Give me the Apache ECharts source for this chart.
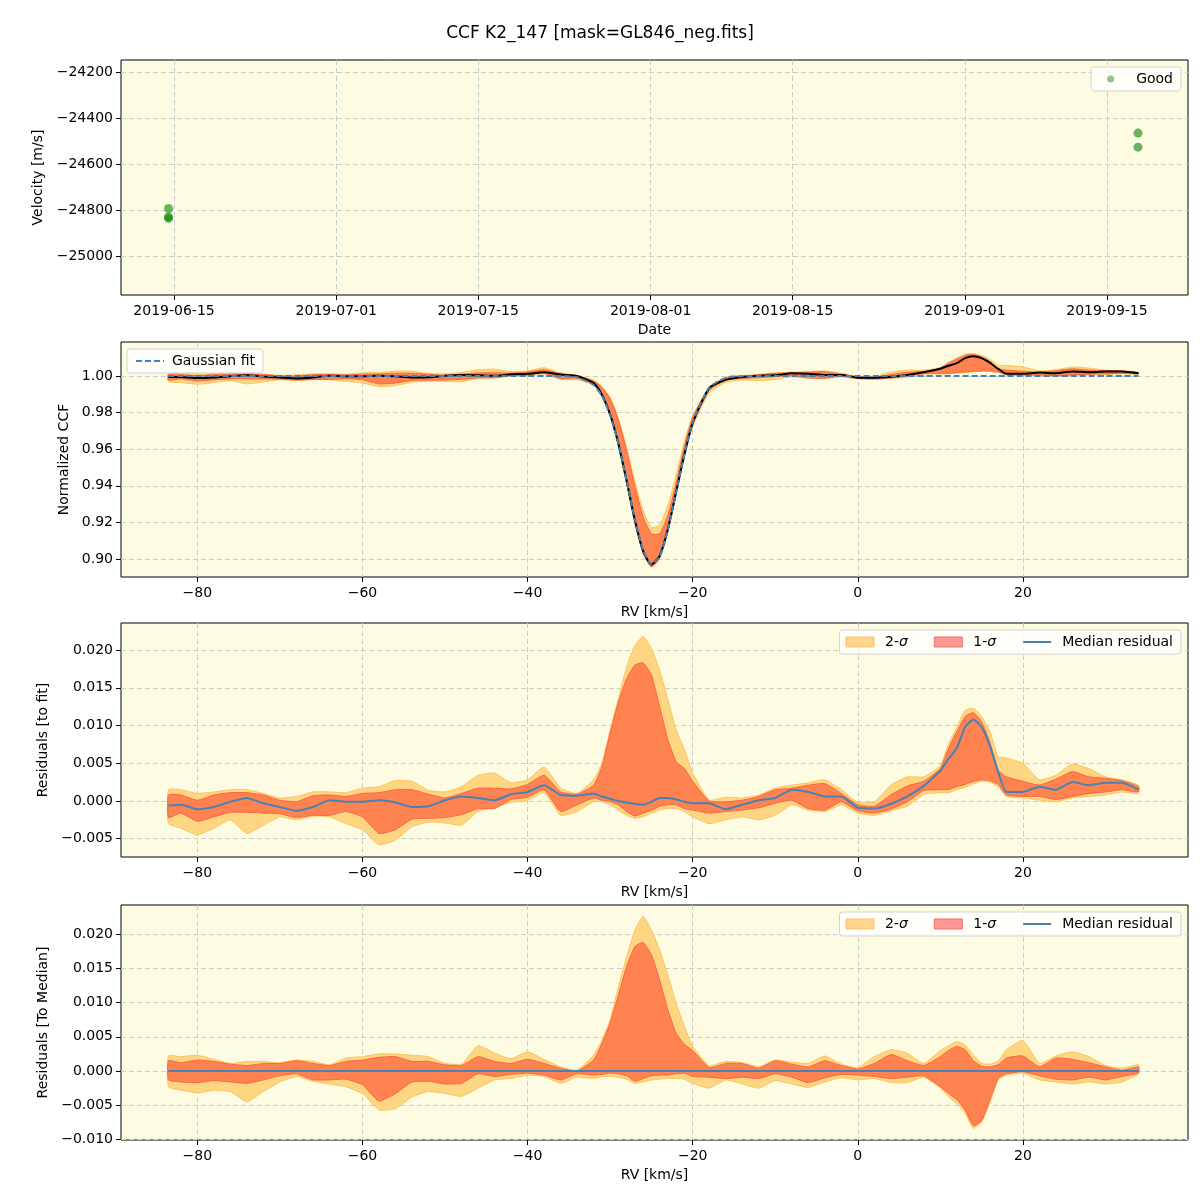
<!DOCTYPE html>
<html>
<head>
<meta charset="utf-8">
<title>CCF K2_147</title>
<script src="https://cdn.jsdelivr.net/npm/echarts@6/dist/echarts.min.js"></script>
<style>
  html, body { margin: 0; padding: 0; background: #fff; }
  #main { width: 1200px; height: 1200px; }
</style>
</head>
<body>
<div id="main"></div>
<script>
// ---- panel 1: velocity time series ----
const velDates = ['2019-06-14T11:00:00Z', '2019-06-14T11:00:00Z', '2019-06-14T11:00:00Z',
  '2019-09-18T01:30:00Z', '2019-09-18T01:30:00Z']
const velValues = [-24794, -24830, -24837, -24466, -24527]
const dateTicks = ['2019-06-15', '2019-07-01', '2019-07-15', '2019-08-01', '2019-08-15', '2019-09-01', '2019-09-15']
const velTicks = [-25000, -24800, -24600, -24400, -24200]

// ---- RV grid shared by panels 2-4 (km/s) ----
const rv = [-83.5, -82, -80, -78, -76, -74, -72, -70, -68, -66, -64, -62, -60, -58, -56, -54, -52, -50,
  -48, -46, -44, -42, -40, -38, -36, -34, -32, -31, -30, -29, -28, -27, -26, -25, -24, -23, -22, -21,
  -20, -18, -16, -14, -12, -10, -8, -6, -4, -2, 0, 2, 4, 6, 8, 10, 11, 12, 13, 14, 15, 16, 17, 18,
  20, 22, 24, 26, 28, 30, 32, 34]
const rvTicks = [-80, -60, -40, -20, 0, 20]

// gaussian fit of the CCF
const gaussFit = [1, 1, 1, 1, 1, 1, 1, 1, 1, 1, 1, 1, 1, 1, 1, 1, 1, 1,
  1, 1, 1, 1, 1, 1, 1, 0.9993, 0.9951, 0.9892, 0.9787, 0.9630, 0.9429, 0.9217, 0.9048, 0.8971, 0.9013, 0.9160, 0.9365, 0.9573,
  0.9746, 0.9937, 0.9990, 0.9999, 1, 1, 1, 1, 1, 1, 1, 1, 1, 1, 1, 1, 1, 1, 1, 1, 1, 1, 1, 1,
  1, 1, 1, 1, 1, 1, 1, 1]

// residuals to fit
const medRes = [-0.0006, -0.0005, -0.0011, -0.0008, -0.0001, 0.0004, -0.0003, -0.0008, -0.0013, -0.0008, 0.0001, -0.0001, -0.0001, 0.0001, -0.0002, -0.0008, -0.0007, 0.0001,
  0.0006, 0.0004, 0.0001, 0.0009, 0.0012, 0.0021, 0.0008, 0.0007, 0.0010, 0.0006, 0.0003, 0.0000, -0.0002, -0.0004, -0.0005, -0.0001, 0.0004, 0.0004, 0.0002, -0.0001,
  -0.0003, -0.0003, -0.0011, -0.0005, 0.0001, 0.0004, 0.0015, 0.0012, 0.0006, 0.0006, -0.0009, -0.0010, -0.0004, 0.0006, 0.0020, 0.0040, 0.0056, 0.0070, 0.0098, 0.0108, 0.0098, 0.0073, 0.0039, 0.0012,
  0.0012, 0.0019, 0.0015, 0.0025, 0.0021, 0.0024, 0.0024, 0.0015]
const res1Hi = [0.0008, 0.0008, 0.0001, 0.0008, 0.0011, 0.0011, 0.0008, 0.0001, -0.0001, 0.0007, 0.0008, 0.0006, 0.0010, 0.0011, 0.0015, 0.0015, 0.0009, 0.0004,
  0.0010, 0.0017, 0.0017, 0.0016, 0.0022, 0.0034, 0.0012, 0.0009, 0.0021, 0.0045, 0.0090, 0.0131, 0.0162, 0.0180, 0.0183, 0.0167, 0.0125, 0.0081, 0.0052, 0.0043,
  0.0026, 0.0000, -0.0001, 0.0001, 0.0006, 0.0015, 0.0017, 0.0021, 0.0023, 0.0010, -0.0005, -0.0007, 0.0008, 0.0020, 0.0026, 0.0043, 0.0070, 0.0092, 0.0112, 0.0117, 0.0105, 0.0078, 0.0041, 0.0032,
  0.0026, 0.0021, 0.0029, 0.0039, 0.0032, 0.0030, 0.0027, 0.0019]
const res1Lo = [-0.0022, -0.0016, -0.0027, -0.0021, -0.0015, -0.0015, -0.0016, -0.0017, -0.0022, -0.0019, -0.0019, -0.0014, -0.0021, -0.0043, -0.0038, -0.0024, -0.0023, -0.0022,
  -0.0018, -0.0010, -0.0010, 0.0002, 0.0005, 0.0015, -0.0014, -0.0005, 0.0004, 0.0001, -0.0001, -0.0005, -0.0014, -0.0020, -0.0016, -0.0012, -0.0007, -0.0005, -0.0005, -0.0010,
  -0.0012, -0.0016, -0.0014, -0.0012, -0.0009, -0.0003, 0.0001, -0.0010, -0.0012, -0.0001, -0.0013, -0.0016, -0.0011, -0.0001, 0.0014, 0.0015, 0.0015, 0.0019, 0.0022, 0.0026, 0.0028, 0.0027, 0.0022, 0.0008,
  0.0006, 0.0006, 0.0002, 0.0006, 0.0010, 0.0012, 0.0015, 0.0012]
const res2Hi = [0.0015, 0.0015, 0.0010, 0.0012, 0.0015, 0.0015, 0.0010, 0.0004, 0.0006, 0.0012, 0.0012, 0.0011, 0.0017, 0.0019, 0.0027, 0.0026, 0.0014, 0.0012,
  0.0019, 0.0034, 0.0037, 0.0024, 0.0028, 0.0045, 0.0017, 0.0010, 0.0028, 0.0050, 0.0094, 0.0136, 0.0178, 0.0206, 0.0218, 0.0202, 0.0173, 0.0134, 0.0094, 0.0068,
  0.0037, 0.0001, 0.0005, 0.0004, 0.0008, 0.0017, 0.0021, 0.0024, 0.0028, 0.0015, -0.0002, -0.0001, 0.0021, 0.0032, 0.0032, 0.0047, 0.0076, 0.0098, 0.0120, 0.0123, 0.0112, 0.0092, 0.0059, 0.0057,
  0.0050, 0.0028, 0.0034, 0.0049, 0.0043, 0.0032, 0.0028, 0.0021]
const res2Lo = [-0.0030, -0.0036, -0.0045, -0.0036, -0.0025, -0.0043, -0.0032, -0.0021, -0.0025, -0.0020, -0.0021, -0.0030, -0.0038, -0.0058, -0.0052, -0.0034, -0.0028, -0.0029,
  -0.0032, -0.0014, -0.0008, -0.0002, 0.0001, 0.0011, -0.0019, -0.0014, -0.0001, -0.0001, -0.0005, -0.0012, -0.0019, -0.0023, -0.0021, -0.0016, -0.0012, -0.0010, -0.0010, -0.0014,
  -0.0021, -0.0030, -0.0025, -0.0021, -0.0025, -0.0019, -0.0005, -0.0012, -0.0014, -0.0005, -0.0016, -0.0019, -0.0013, -0.0007, 0.0009, 0.0011, 0.0011, 0.0015, 0.0018, 0.0023, 0.0026, 0.0025, 0.0019, 0.0006,
  0.0004, 0.0001, -0.0001, 0.0004, 0.0006, 0.0008, 0.0012, 0.0010]

// residuals to median
const medLineRv = [-83.5, 34]
const medLine = [0, 0]
const med1Hi = [0.0015, 0.0012, 0.0016, 0.0014, 0.0010, 0.0008, 0.0011, 0.0011, 0.0015, 0.0011, 0.0008, 0.0014, 0.0016, 0.0020, 0.0021, 0.0014, 0.0014, 0.0009,
  0.0008, 0.0021, 0.0014, 0.0011, 0.0017, 0.0011, 0.0004, 0.0000, 0.0016, 0.0040, 0.0070, 0.0111, 0.0153, 0.0182, 0.0188, 0.0170, 0.0133, 0.0089, 0.0055, 0.0039,
  0.0030, 0.0005, 0.0011, 0.0011, 0.0004, 0.0015, 0.0010, 0.0006, 0.0015, 0.0008, 0.0003, 0.0011, 0.0024, 0.0015, 0.0008, 0.0021, 0.0030, 0.0036, 0.0031, 0.0015, 0.0007, 0.0006, 0.0009, 0.0019,
  0.0022, 0.0006, 0.0019, 0.0017, 0.0012, 0.0006, 0.0001, 0.0006]
const med1Lo = [-0.0013, -0.0016, -0.0017, -0.0014, -0.0016, -0.0018, -0.0013, -0.0007, -0.0004, -0.0013, -0.0013, -0.0012, -0.0020, -0.0044, -0.0033, -0.0016, -0.0015, -0.0019,
  -0.0018, -0.0004, -0.0008, -0.0005, -0.0003, -0.0006, -0.0013, -0.0004, -0.0006, -0.0005, -0.0003, -0.0004, -0.0007, -0.0015, -0.0011, -0.0007, -0.0006, -0.0006, -0.0004, -0.0003,
  -0.0008, -0.0009, -0.0011, -0.0009, -0.0011, -0.0004, -0.0009, -0.0017, -0.0010, -0.0005, -0.0006, -0.0008, -0.0011, -0.0009, -0.0007, -0.0023, -0.0033, -0.0042, -0.0057, -0.0080, -0.0073, -0.0042, -0.0011, -0.0004,
  -0.0001, -0.0007, -0.0012, -0.0013, -0.0009, -0.0013, -0.0008, -0.0003]
const med2Hi = [0.0022, 0.0021, 0.0023, 0.0017, 0.0011, 0.0014, 0.0014, 0.0012, 0.0016, 0.0014, 0.0009, 0.0019, 0.0021, 0.0025, 0.0025, 0.0023, 0.0021, 0.0011,
  0.0010, 0.0037, 0.0026, 0.0018, 0.0028, 0.0017, 0.0006, 0.0001, 0.0023, 0.0045, 0.0075, 0.0123, 0.0167, 0.0206, 0.0226, 0.0206, 0.0177, 0.0140, 0.0099, 0.0065,
  0.0036, 0.0008, 0.0014, 0.0012, 0.0006, 0.0016, 0.0013, 0.0011, 0.0022, 0.0010, 0.0005, 0.0021, 0.0031, 0.0026, 0.0011, 0.0030, 0.0037, 0.0043, 0.0038, 0.0023, 0.0011, 0.0010, 0.0014, 0.0031,
  0.0045, 0.0011, 0.0022, 0.0028, 0.0021, 0.0008, 0.0004, 0.0009]
const med2Lo = [-0.0023, -0.0028, -0.0032, -0.0028, -0.0030, -0.0045, -0.0030, -0.0016, -0.0008, -0.0015, -0.0019, -0.0023, -0.0033, -0.0057, -0.0055, -0.0038, -0.0030, -0.0033,
  -0.0037, -0.0025, -0.0013, -0.0011, -0.0006, -0.0008, -0.0018, -0.0009, -0.0011, -0.0008, -0.0008, -0.0009, -0.0012, -0.0018, -0.0016, -0.0013, -0.0012, -0.0011, -0.0011, -0.0012,
  -0.0018, -0.0025, -0.0013, -0.0019, -0.0025, -0.0014, -0.0019, -0.0024, -0.0016, -0.0010, -0.0013, -0.0011, -0.0017, -0.0017, -0.0009, -0.0025, -0.0038, -0.0048, -0.0062, -0.0084, -0.0074, -0.0047, -0.0013, -0.0006,
  -0.0003, -0.0013, -0.0016, -0.0019, -0.0016, -0.0019, -0.0016, -0.0004]

const FONT = 'DejaVu Sans'
const BG = '#fdfbe1'
const FILL2 = '#fed682'
const EDGE2 = '#fcc461'
const FILL1 = '#ff8350'
const EDGE1 = '#fb6440'
const BLUE = '#4682b4'
const FIT_BLUE = '#3d85c0'

// ccf panel is the fit plus the residual curves
const onFit = arr => arr.map((v, i) => gaussFit[i] + v)

const minus = s => String(s).replace('-', '\u2212')

function grid(top, height) {
  return { left: 121, right: 12, top: top, height: height, show: true, backgroundColor: BG, borderColor: '#000', borderWidth: 1 }
}

function valueAxis(idx, min, max, ticks, fmt, name, gap, isX) {
  return {
    type: 'value', gridIndex: idx, min: min, max: max, scale: true,
    name: name, nameLocation: 'middle', nameGap: gap,
    nameTextStyle: { fontFamily: FONT, fontSize: 14, color: '#000' },
    axisLine: { show: false, onZero: false },
    axisTick: { show: true, length: 5, lineStyle: { color: '#000' }, customValues: ticks },
    axisLabel: { fontFamily: FONT, fontSize: 14, color: '#000', margin: isX ? 9 : 8, customValues: ticks, formatter: fmt },
    splitLine: { show: true, lineStyle: { color: '#cccccc', type: [5, 3], width: 1 } }
  }
}

function band(name, idx, lo, hi, fill, stroke, z, smooth) {
  return {
    type: 'custom', name: name, xAxisIndex: idx, yAxisIndex: idx, silent: true, z: z,
    data: rv.map((x, i) => [x, lo[i], hi[i]]),
    encode: { x: 0, y: [1, 2] },
    renderItem: function(params, api) {
      if (params.dataIndex !== 0) return null
      const pts = []
      for (let i = 0; i < rv.length; i++) pts.push(api.coord([rv[i], hi[i]]))
      for (let i = rv.length - 1; i >= 0; i--) pts.push(api.coord([rv[i], lo[i]]))
      return { type: 'polygon', shape: { points: pts, smooth: smooth || 0 }, style: { fill: fill, stroke: stroke, lineWidth: 1 } }
    }
  }
}

function line(name, idx, xs, ys, color, width, dash, z, smooth) {
  return {
    type: 'line', name: name, xAxisIndex: idx, yAxisIndex: idx, z: z, silent: true,
    symbol: 'none', showSymbol: false, smooth: smooth || false,
    data: xs.map((x, i) => [x, ys[i]]),
    lineStyle: { color: color, width: width, type: dash || 'solid' },
    itemStyle: { color: color }
  }
}

const legendText = { fontFamily: FONT, fontSize: 14, color: '#000', padding: [0, 0, 0, 6],
  rich: { i: { fontFamily: FONT, fontSize: 14, fontStyle: 'italic', color: '#000' } } }
const legendBox = { backgroundColor: 'rgba(255,255,255,0.8)', borderColor: '#d3d3d3', borderWidth: 1, borderRadius: 3, selectedMode: false }

function bandLegend(top) {
  return Object.assign({}, legendBox, {
    right: 19, top: top, orient: 'horizontal', itemWidth: 28, itemHeight: 10, itemGap: 26, padding: [5, 8, 5, 6],
    textStyle: legendText,
    formatter: n => n.replace('\u03c3', '{i|\u03c3}'),
    data: [
      { name: '2-\u03c3', icon: 'rect', itemStyle: { color: '#fed58b', borderColor: '#f7c36a', borderWidth: 1 } },
      { name: '1-\u03c3', icon: 'rect', itemStyle: { color: '#fc9793', borderColor: '#f0706a', borderWidth: 1 } },
      { name: 'Median residual', itemStyle: { opacity: 0 }, lineStyle: { color: BLUE, width: 2, type: 'solid' } }
    ]
  })
}

const dayMs = s => Date.parse(s + 'T00:00:00Z')
const fmtDate = v => {
  const d = new Date(v)
  const p = n => (n < 10 ? '0' : '') + n
  return d.getUTCFullYear() + '-' + p(d.getUTCMonth() + 1) + '-' + p(d.getUTCDate())
}

const dateAxis = valueAxis(0, Date.UTC(2019, 5, 9, 18, 30), Date.UTC(2019, 8, 22, 23, 45),
  dateTicks.map(dayMs), fmtDate, 'Date', 28, true)

const option = {
  animation: false,
  backgroundColor: '#fff',
  textStyle: { fontFamily: FONT },
  title: { text: 'CCF K2_147 [mask=GL846_neg.fits]', left: 'center', top: 20,
    textStyle: { fontFamily: FONT, fontSize: 17, fontWeight: 'normal', color: '#000' } },
  legend: [
    Object.assign({}, legendBox, {
      right: 19, top: 67, itemWidth: 7, itemHeight: 7, padding: [5, 8, 5, 16],
      textStyle: { fontFamily: FONT, fontSize: 14, color: '#000', padding: [0, 0, 0, 17] },
      data: [{ name: 'Good', icon: 'circle', itemStyle: { color: 'rgba(0,128,0,0.55)' } }]
    }),
    Object.assign({}, legendBox, {
      left: 127, top: 349, itemWidth: 28, itemHeight: 10, padding: [5, 8, 5, 8],
      textStyle: { fontFamily: FONT, fontSize: 14, color: '#000', padding: [0, 0, 0, 3] },
      data: [{ name: 'Gaussian fit', itemStyle: { opacity: 0 }, lineStyle: { color: FIT_BLUE, width: 2, type: [6, 3] } }]
    }),
    bandLegend(630),
    bandLegend(912)
  ],
  grid: [grid(60, 235), grid(342, 235), grid(623, 234), grid(905, 235)],
  xAxis: [
    dateAxis,
    valueAxis(1, -89.25, 40, rvTicks, v => minus(v), 'RV [km/s]', 28, true),
    valueAxis(2, -89.25, 40, rvTicks, v => minus(v), 'RV [km/s]', 28, true),
    valueAxis(3, -89.25, 40, rvTicks, v => minus(v), 'RV [km/s]', 28, true)
  ],
  yAxis: [
    valueAxis(0, -25170, -24148, velTicks, v => minus(v), 'Velocity [m/s]', 73),
    valueAxis(1, 0.89016, 1.01858, [0.90, 0.92, 0.94, 0.96, 0.98, 1.00], v => minus(v.toFixed(2)), 'Normalized CCF', 48),
    valueAxis(2, -0.00742, 0.02358, [-0.005, 0, 0.005, 0.01, 0.015, 0.02], v => minus(v.toFixed(3)), 'Residuals [to fit]', 68),
    valueAxis(3, -0.01009, 0.02427, [-0.01, -0.005, 0, 0.005, 0.01, 0.015, 0.02], v => minus(v.toFixed(3)), 'Residuals [To Median]', 68)
  ],
  series: [
    {
      type: 'scatter', name: 'Good', xAxisIndex: 0, yAxisIndex: 0, silent: true,
      symbol: 'circle', symbolSize: 9,
      data: velDates.map((d, i) => [Date.parse(d), velValues[i]]),
      itemStyle: { color: 'rgba(0,128,0,0.72)' }
    },
    band('2-\u03c3', 1, onFit(res2Lo), onFit(res2Hi), FILL2, EDGE2, 2, 0.2),
    band('1-\u03c3', 1, onFit(res1Lo), onFit(res1Hi), FILL1, EDGE1, 3, 0.2),
    line('CCF', 1, rv, onFit(medRes), '#000', 2, 'solid', 4, 0.2),
    line('Gaussian fit', 1, rv, gaussFit, FIT_BLUE, 2, [6, 3], 5, 0.2),
    band('2-\u03c3', 2, res2Lo, res2Hi, FILL2, EDGE2, 2, 0.15),
    band('1-\u03c3', 2, res1Lo, res1Hi, FILL1, EDGE1, 3, 0.15),
    line('Median residual', 2, rv, medRes, BLUE, 2, 'solid', 4, 0.15),
    band('2-\u03c3', 3, med2Lo, med2Hi, FILL2, EDGE2, 2, 0.15),
    band('1-\u03c3', 3, med1Lo, med1Hi, FILL1, EDGE1, 3, 0.15),
    line('Median residual', 3, medLineRv, medLine, BLUE, 2, 'solid', 4)
  ]
}

const chart = echarts.init(document.getElementById('main'), null, { renderer: 'canvas' })
chart.setOption(option)
</script>
</body>
</html>
